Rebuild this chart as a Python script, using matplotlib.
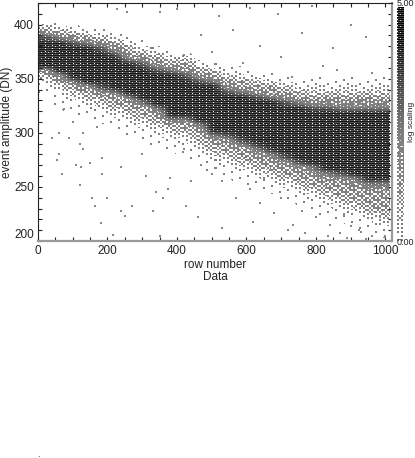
import numpy as np
import matplotlib
matplotlib.use("Agg")
import matplotlib.pyplot as plt

plt.rcParams['font.family'] = ['Liberation Sans', 'DejaVu Sans']

# Density levels per row-number column, read top (amp 420) to bottom (amp 200) in 5 DN steps
density_columns = [
    "000146899999643221111111",
    "0001357999999653222111111",
    "00002468999999754322111111",
    "000013579999999654322111111",
    "0000024689999998654322111111",
    "00000135689999997554322111111",
    "000000135579999997554322111111",
    "0000000135689999997554322111111",
    "00000000245689999997554322111111",
    "000000001245799999999754322111111",
    "0000000002456899999997553322111111",
    "00000000001356899999997554322111111",
    "000000000012457999999999755432211111",
    "0000000000012456899999998655432211111",
    "00000000000123557999999998655432211111",
    "000000000000124568999999998655432211111",
    "0000000000001235579999999998655432211111",
    "00000000000001245689999999998655432211111",
    "000000000000012355799999999998655432211111",
    "000000000000012345689999999999765543221111",
    "0000000000000123456899999999999765543221111",
    "00000000000001234567999999999998655543221111",
    "00000000000001234567999999999999765554322111",
    "00000000000001234567999999999999976555432211",
    "00000000000001234567999999999999976555543221",
]
level_tones = [0, .012, .035, .09, .18, .30, .42, .55, .68, .82]

# Isolated specks outside the band
speck_rows = [227, 255, 351, 400, 520, 610, 690, 790, 560, 760, 900, 945, 850, 640,
              470, 300, 330, 420, 190, 240, 700, 820, 860, 960, 730, 590, 500, 440,
              60, 75, 100, 130, 170, 60, 90, 110, 150, 40, 70, 130, 55, 120, 125,
              185, 185, 200, 240, 250, 270, 310, 340, 350, 360, 375, 380, 425, 440,
              460, 330, 300, 240, 215, 155, 165, 120, 180, 420, 470, 500, 530, 570,
              610, 640, 650, 680, 700, 735, 760, 800, 840, 870, 890, 925, 960, 985,
              530, 620, 770, 900, 930, 945, 985, 1000, 880, 835, 720]
speck_amps = [414, 412, 412, 414, 408, 415, 410, 417, 395, 392, 400, 389, 378, 380,
              390, 385, 378, 372, 395, 390, 370, 362, 358, 355, 352, 365, 375, 368,
              300, 322, 310, 300, 305, 280, 295, 270, 272, 295, 262, 285, 275, 290,
              268, 277, 262, 240, 228, 223, 232, 260, 245, 205, 240, 248, 258, 232,
              255, 222, 228, 280, 268, 206, 240, 232, 252, 217, 285, 270, 262, 255,
              240, 248, 235, 258, 226, 240, 215, 228, 222, 215, 207, 203, 210, 205,
              216, 212, 218, 207, 214, 208, 202, 222, 205, 225, 205, 210]

x_ticks = [0, 200, 400, 600, 800, 1000]
y_ticks = [200, 250, 300, 350, 400]
scale_labels = ["0.00", "5.00"]

BAYER = (np.array([[0, 8, 2, 10], [12, 4, 14, 6], [3, 11, 1, 9], [15, 7, 13, 5]]) + 0.5) / 16


def halftone(tone):
    """Print-style halftone at one-pixel resolution: dotted grays, striped darks, white dashes."""
    ny, nx = tone.shape
    yy, xx = np.mgrid[0:ny, 0:nx]
    by, bx = yy // 2, xx // 2
    thr = BAYER[(by + (bx // 4) * 5) % 4, bx % 4]
    out = np.ones(tone.shape)
    light = tone < 0.5
    out[light & (tone * 2 > thr)] = 0.5
    dark_frac = np.clip((tone - 0.5) / 0.4, 0, 1)
    stripes = np.where(yy % 2 == 0, 0.0, 0.28)
    dark_val = 0.5 * (1 - dark_frac) + stripes * dark_frac
    out[~light] = dark_val[~light]
    dashes = (xx % 7 < 1) & (yy % 3 == 0) & (tone > 0.38)
    out[dashes] = 1.0
    dots = (xx % 7 == 3) & (yy % 6 == 1) & (tone > 0.38)
    out[dots] = 0.85
    return out


levels = np.array([[int(ch) for ch in col.ljust(44, "0")] for col in density_columns]).T
tones = np.array(level_tones)[levels]

W, H = 415, 458
x_max, x_data_end = 1019, 1010
nx, ny = 354, 238
cell_x = (np.arange(nx) + 0.5) * x_max / nx
cell_y = 420 - (np.arange(ny) + 0.5) * 220 / ny
col_idx = np.clip((cell_x / x_data_end * len(density_columns)).astype(int), 0, len(density_columns) - 1)
row_idx = np.clip(((420 - cell_y) / 5).astype(int), 0, 43)
raster = tones[np.ix_(row_idx, col_idx)]
kx, ky = 13, 5
pad = np.pad(raster, ((ky // 2, ky // 2), (kx // 2, kx // 2)), mode="edge")
soft = np.apply_along_axis(lambda v: np.convolve(v, np.ones(kx) / kx, "valid"), 1, pad)
soft = np.apply_along_axis(lambda v: np.convolve(v, np.ones(ky) / ky, "valid"), 0, soft)
image = halftone(soft)
image[:, cell_x > x_data_end] = 1.0

fig = plt.figure(figsize=(W / 100, H / 100), dpi=100)
ax = fig.add_axes([38 / W, 1 - 241 / H, 354 / W, 238 / H])
ax.imshow(image, extent=(0, x_max, 200, 420), aspect="auto", cmap="gray", vmin=0, vmax=1,
          interpolation="nearest")
ax.scatter(speck_rows, speck_amps, s=2.0, marker="s", c="#888888", linewidths=0)
ax.set_xlim(0, x_max)
ax.set_ylim(200, 420)
ax.set_xticks(x_ticks)
ax.set_yticks(y_ticks)
ax.set_xticks(np.arange(0, 1001, 50), minor=True)
ax.set_yticks(np.arange(200, 421, 10), minor=True)
ax.tick_params(axis="both", which="both", direction="in", top=True, right=True, length=3, width=0.8, color="#222222")
ax.tick_params(axis="both", which="major", labelsize=8.5, pad=3, labelcolor="#222222")
ax.get_yticklabels()[0].set_verticalalignment("bottom")
for s in ("top", "left"):
    ax.spines[s].set_color("#222222")
    ax.spines[s].set_linewidth(0.8)
for s in ("bottom", "right"):
    ax.spines[s].set_color("#999999")
    ax.spines[s].set_linewidth(1.6)
ax.set_xlabel("row number\nData", fontsize=8.5, labelpad=1, color="#222222", linespacing=1.05)
ax.set_ylabel("event amplitude (DN)", fontsize=8.5, color="#222222")
ax.yaxis.set_label_coords((13 - 38) / 354, 0.5)

cax = fig.add_axes([397 / W, 1 - 241 / H, 7 / W, 234 / H])
ramp = np.tile(np.linspace(1.0, 0.08, 234).reshape(-1, 1), (1, 7))
cax.imshow(halftone(ramp), aspect="auto", cmap="gray", vmin=0, vmax=1, interpolation="nearest")
cax.axis("off")
fig.text(397 / W, 1 - 3.5 / H, scale_labels[1], fontsize=6.5, ha="left", va="center", color="#222222")
fig.text(397 / W, 1 - 243 / H, scale_labels[0], fontsize=6.5, ha="left", va="center", color="#222222")
fig.text(411 / W, 1 - 122 / H, "log scaling", fontsize=6, rotation=90, ha="center", va="center", color="#222222")
fig.text(38 / W, 1 - 454 / H, ".", fontsize=7, ha="center", va="center", color="#222222")
fig.savefig("out.png", dpi=100)
